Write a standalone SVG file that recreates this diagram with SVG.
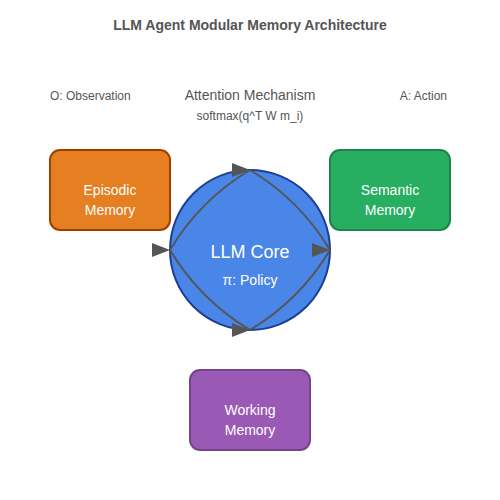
<svg xmlns="http://www.w3.org/2000/svg" width="500" height="500" viewBox="0 0 500 500">
<style>
text{font-family:"Liberation Sans",Arial,sans-serif;}
.lbl{fill:#555;font-size:12px;}
.box{stroke-width:2;}
.wt{fill:#fff;font-size:14px;text-anchor:middle;}
.conn{fill:none;stroke:#555;stroke-width:2;}
</style>
<defs>
<marker id="arr" markerWidth="18" markerHeight="14" refX="18" refY="7" markerUnits="userSpaceOnUse">
<polygon points="0,0 18,7 0,14" fill="#555"/>
</marker>
</defs>
<rect width="500" height="500" fill="#fff"/>
<text x="250" y="30" text-anchor="middle" style="font-size:14px;font-weight:bold;fill:#555">LLM Agent Modular Memory Architecture</text>
<text class="lbl" x="50" y="100">O: Observation</text>
<text class="lbl" x="447" y="100" text-anchor="end">A: Action</text>
<text x="250" y="100" text-anchor="middle" style="font-size:14px;fill:#555">Attention Mechanism</text>
<text class="lbl" x="250" y="120" text-anchor="middle">softmax(q^T W m_i)</text>
<g id="episodic">
<rect class="box" x="50" y="150" width="120" height="80" rx="10" fill="#e67e22" stroke="#a04000"/>
<text class="wt" x="110" y="195">Episodic</text>
<text class="wt" x="110" y="215">Memory</text>
</g>
<g id="semantic">
<rect class="box" x="330" y="150" width="120" height="80" rx="10" fill="#27ae60" stroke="#1e8449"/>
<text class="wt" x="390" y="195">Semantic</text>
<text class="wt" x="390" y="215">Memory</text>
</g>
<g id="working">
<rect class="box" x="190" y="370" width="120" height="80" rx="10" fill="#9b59b6" stroke="#76448a"/>
<text class="wt" x="250" y="415">Working</text>
<text class="wt" x="250" y="435">Memory</text>
</g>
<g id="core">
<circle cx="250" cy="250" r="80" fill="#4a86e8" stroke="#1c3f94" stroke-width="2"/>
<text x="250" y="258" text-anchor="middle" style="font-size:18px;fill:#fff">LLM Core</text>
<text class="wt" x="250" y="285">π: Policy</text>
</g>
<g id="connectors">
<path class="conn" d="M170,250 Q200,200 250,170" marker-end="url(#arr)"/>
<path class="conn" d="M250,170 Q300,200 330,250" marker-end="url(#arr)"/>
<path class="conn" d="M330,250 Q300,300 250,330" marker-end="url(#arr)"/>
<path class="conn" d="M250,330 Q200,300 170,250" marker-end="url(#arr)"/>
</g>
</svg>
